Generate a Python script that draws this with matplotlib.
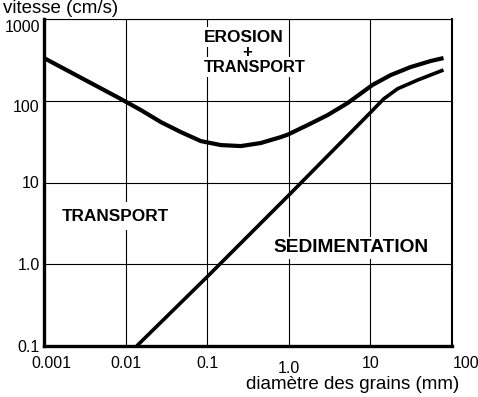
import matplotlib
matplotlib.use('Agg')
import matplotlib.pyplot as plt
import matplotlib.transforms as mtransforms

plt.rcParams['font.family'] = ['Liberation Sans', 'DejaVu Sans']

# courbe erosion (diametre mm, vitesse cm/s)
erosion_d = [0.001, 0.00876, 0.0154, 0.027, 0.0475, 0.0836, 0.147, 0.258, 0.453, 0.796, 0.97,
             1.70, 2.99, 5.26, 10.6, 17.7, 31.0, 54.6, 78.7]
erosion_v = [333, 105, 76.9, 54.9, 41.4, 32.1, 28.7, 27.9, 30.4, 35.9, 38.5,
             50.4, 66.8, 93.7, 156, 206, 258, 306, 333]

# courbe sedimentation
sedim_d = [0.0137, 0.0989, 1.0, 10.05, 14.5, 21.5, 37.8, 78.7]
sedim_v = [0.1, 0.695, 7.0, 72, 105, 140, 179, 238]

xticks = [0.001, 0.01, 0.1, 1.0, 10, 100]
xlabels = ['0.001', '0.01', '0.1', '1.0', '10', '100']
yticks = [0.1, 1.0, 10, 100, 1000]
ylabels = ['0.1', '1.0', '10', '100', '1000']

fig = plt.figure(figsize=(4.78, 3.97), dpi=100)
ax = fig.add_axes([44/478, 1 - 346/397, (452-44)/478, (346-19)/397])
ax.set_xscale('log')
ax.set_yscale('log')
ax.set_xlim(0.001, 100)
ax.set_ylim(0.1, 1000)

ax.plot(erosion_d, erosion_v, color='black', lw=3, solid_capstyle='butt', solid_joinstyle='round', zorder=3)
ax.plot(sedim_d, sedim_v, color='black', lw=2.6, solid_capstyle='butt', solid_joinstyle='round', zorder=3)

ax.set_xticks(xticks)
ax.set_xticklabels(xlabels)
ax.set_yticks(yticks)
ax.set_yticklabels(ylabels)
ax.minorticks_off()
ax.tick_params(axis='both', length=0, labelsize=11.5)
ax.tick_params(axis='x', pad=7.5)
ax.tick_params(axis='y', pad=3)
ax.grid(True, color='black', lw=0.8)

# decalages des etiquettes comme sur l'original
def shift(lab, dx, dy):
    lab.set_transform(lab.get_transform() + mtransforms.ScaledTranslation(dx/100, dy/100, fig.dpi_scale_trans))

xl = ax.get_xticklabels()
shift(xl[0], 7, 0)
shift(xl[3], 0, -5)
shift(xl[5], 14, 0)
yl = ax.get_yticklabels()
shift(yl[4], 0, -7)
shift(yl[3], 0, -5)

ax.spines['left'].set_linewidth(2.4)
ax.spines['bottom'].set_linewidth(2.4)
ax.spines['right'].set_linewidth(1.5)
ax.spines['top'].set_linewidth(0.8)

def box(p):
    return dict(facecolor='white', edgecolor='none', pad=p)

def txt(x, y, s, **k):
    fig.text(x/478, 1 - y/397, s, **k)

txt(204, 37, 'EROSION', fontsize=12.5, fontweight='bold', ha='left', va='center', bbox=box(2))
txt(247, 53, '+', fontsize=12, fontweight='bold', ha='center', va='center', bbox=box(0))
txt(204, 67, 'TRANSPORT', fontsize=11.8, fontweight='bold', ha='left', va='center', bbox=box(2))
txt(62, 216, 'TRANSPORT', fontsize=12.4, fontweight='bold', ha='left', va='center', bbox=box(5))
txt(273, 248, 'SEDIMENTATION', fontsize=13.8, fontweight='bold', ha='left', va='center', bbox=box(2))

txt(3, 0, 'vitesse (cm/s)', fontsize=13.5, ha='left', va='top')
txt(459, 389, 'diamètre des grains (mm)', fontsize=13.5, ha='right', va='baseline')

fig.savefig('out.png', dpi=100)
